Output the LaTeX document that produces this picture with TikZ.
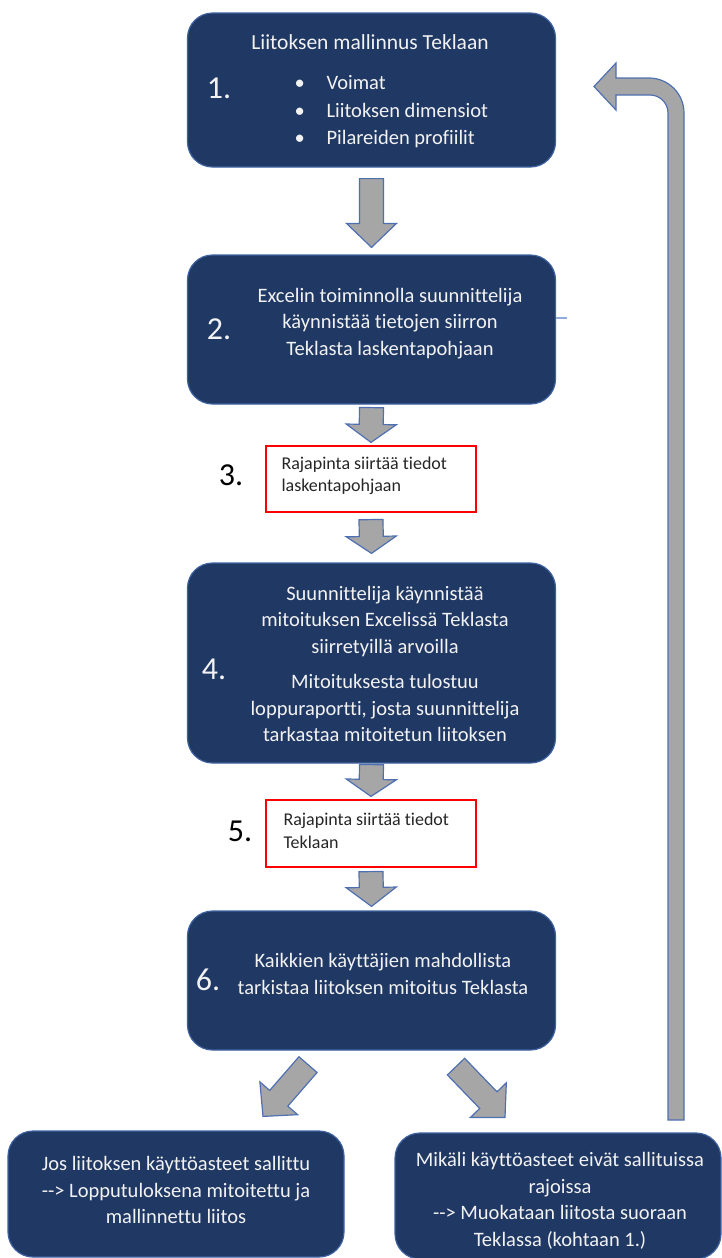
\documentclass[tikz,border=0pt]{standalone}
\usepackage{fontspec}
\setmainfont{Carlito}[Ligatures={TeX,NoCommon}]
\usetikzlibrary{calc}

\definecolor{navy}{RGB}{32,56,100}
\definecolor{navyedge}{RGB}{62,98,160}
\definecolor{arrowgray}{RGB}{166,166,166}
\definecolor{arrowedge}{RGB}{78,112,178}
\definecolor{boxtext}{RGB}{242,242,242}
\definecolor{thinblue}{RGB}{143,170,220}

% block arrow: back centre, tip, head length
\newcommand\blockarrow[3]{%
	\path (#1) coordinate (ba) (#2) coordinate (bt) ($(bt)!#3!(ba)$) coordinate (bh);
	\draw[blockarr] ($(ba)!12pt!90:(bt)$) -- ($(bh)!12pt!-90:(ba)$) -- ($(bh)!25pt!-90:(ba)$) -- (bt)
		-- ($(bh)!25pt!90:(ba)$) -- ($(bh)!12pt!90:(ba)$) -- ($(ba)!12pt!-90:(bt)$) -- cycle;
}

\begin{document}
\begin{tikzpicture}[x=1pt, y=-1pt,
	navybox/.style={draw=navyedge, line width=1.2pt, fill=navy, rounded corners=25pt, inner sep=0pt},
	redbox/.style={draw=red, line width=1.2pt, fill=white, inner sep=0pt},
	boxtxt/.style={text=boxtext, align=center, font=\fontsize{20.5}{26.5}\selectfont},
	redtxt/.style={text=black!85, align=left, anchor=west, font=\fontsize{18}{22.5}\selectfont},
	numtxt/.style={font=\fontsize{32}{32}\selectfont},
	blockarr/.style={draw=arrowedge, line width=1.2pt, fill=arrowgray}]
		\useasboundingbox (0,0) rectangle (722,1258);

		% boxes
		\node[navybox, minimum width=368pt, minimum height=154pt] (b1) at (371.5,90) {};
		\node[navybox, minimum width=368pt, minimum height=149pt] (b2) at (371.5,329.5) {};
		\node[redbox, minimum width=210pt, minimum height=66pt] (b3) at (371,479) {};
		\node[navybox, minimum width=368pt, minimum height=200pt] (b4) at (371.5,663) {};
		\node[redbox, minimum width=210pt, minimum height=67pt] (b5) at (371,833.5) {};
		\node[navybox, minimum width=368pt, minimum height=139pt] (b6) at (371.5,980.5) {};
		\node[navybox, minimum width=336pt, minimum height=126pt] (b7) at (176,1194) {};
		\node[navybox, minimum width=326pt, minimum height=126pt] (b8) at (558,1196) {};

		% texts
		\node[boxtxt, font=\fontsize{21.5}{26.5}\selectfont] (t1) at (370,42) {Liitoksen mallinnus Teklaan};
		\node[boxtxt, align=left, anchor=west, font=\fontsize{20.5}{27.5}\selectfont] (t1b) at (291,112)
			{\makebox[32pt][l]{\textbullet}Voimat\\ \makebox[32pt][l]{\textbullet}Liitoksen dimensiot\\ \makebox[32pt][l]{\textbullet}Pilareiden profiilit};
		\node[boxtxt] (t2) at (390,323.5) {Excelin toiminnolla suunnittelija\\ käynnistää tietojen siirron\\ Teklasta laskentapohjaan};
		\node[redtxt] (t3) at (278,476) {Rajapinta siirtää tiedot\\ laskentapohjaan};
		\node[boxtxt] (t4) at (385,664) {Suunnittelija käynnistää\\ mitoituksen Excelissä Teklasta\\ siirretyillä arvoilla\\[9pt]
			Mitoituksesta tulostuu\\ loppuraportti, josta suunnittelija\\ tarkastaa mitoitetun liitoksen};
		\node[redtxt] (t5) at (280,831) {Rajapinta siirtää tiedot\\ Teklaan};
		\node[boxtxt] (t6) at (383,974) {Kaikkien käyttäjien mahdollista\\ tarkistaa liitoksen mitoitus Teklasta};
		\node[boxtxt] (t7) at (176,1190) {Jos liitoksen käyttöasteet sallittu\\ -{}-{}> Lopputuloksena mitoitettu ja\\ mallinnettu liitos};
		\node[boxtxt] (t8) at (560,1201) {Mikäli käyttöasteet eivät sallituissa\\ rajoissa\\ -{}-{}> Muokataan liitosta suoraan\\ Teklassa (kohtaan 1.)};

		% step numbers
		\node[numtxt, text=boxtext] (n1) at (219,88) {1.};
		\node[numtxt, text=boxtext] (n2) at (219,329) {2.};
		\node[numtxt] (n3) at (231,475) {3.};
		\node[numtxt, text=boxtext] (n4) at (214,669) {4.};
		\node[numtxt] (n5) at (240,831) {5.};
		\node[numtxt, text=boxtext] (n6) at (208,980) {6.};

		\draw[thinblue, line width=1.8pt] ($(b2.east)+(0,-11.5)$) -- ++(11,0);

		% arrows
		\blockarrow{$(b1.south)+(0,11)$}{$(b2.north)+(0,-7)$}{24pt}
		\blockarrow{$(b2.south)+(0,3)$}{$(b3.north)+(0,-3)$}{18pt}
		\blockarrow{$(b3.south)+(0,7)$}{$(b4.north)+(0,-9)$}{17pt}
		\blockarrow{$(b4.south)+(0,1)$}{$(b5.north)+(0,-3)$}{17pt}
		\blockarrow{$(b5.south)+(0,4)$}{$(b6.north)+(0,-4)$}{19pt}
		\blockarrow{$(b6.south)+(-63.5,14)$}{$(b7.north)+(87,-14)$}{24pt}
		\blockarrow{$(b6.south)+(84.5,16)$}{$(b8.north)+(-53,-15)$}{24pt}

		% back to step 1
		\draw[blockarr] (668,1120) -- (668,113) arc[start angle=0, end angle=-90, radius=18] -- (616,95) -- (616,110)
			-- (594,86.5) -- (616,63) -- (616,78) -- (649,78) arc[start angle=-90, end angle=0, radius=35] -- (684,1120) -- cycle;
\end{tikzpicture}
\end{document}
